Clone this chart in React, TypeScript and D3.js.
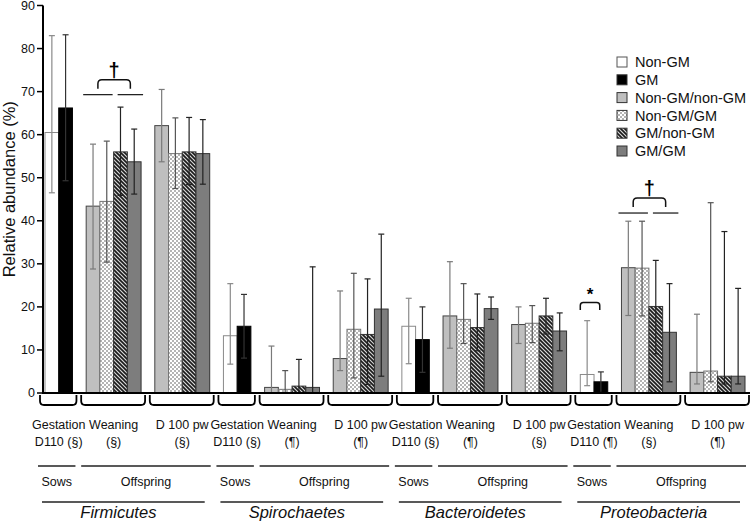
import React from "react";
import * as d3 from "d3";

// ---- data ----
const phyla = ["Firmicutes", "Spirochaetes", "Bacteroidetes", "Proteobacteria"];
const seriesNames = ["Non-GM", "GM", "Non-GM/non-GM", "Non-GM/GM", "GM/non-GM", "GM/GM"];
const timeLabels = ["Gestation", "Weaning", "D 100 pw"];
const timeSubLabels = [
  ["D110 (§)", "(§)", "(§)"],
  ["D110 (§)", "(¶)", "(¶)"],
  ["D110 (§)", "(¶)", "(§)"],
  ["D110 (¶)", "(§)", "(¶)"],
];
const yTicks = [0, 10, 20, 30, 40, 50, 60, 70, 80, 90];

// sows (Non-GM, GM)
const sowMean = [[60.5, 66.2], [13.3, 15.5], [15.5, 12.4], [4.3, 2.6]];
const sowLow = [[46.5, 49.3], [6.7, 8.1], [6.8, 4.8], [1.7, 0.3]];
const sowHigh = [[83.0, 83.2], [25.4, 22.9], [22.0, 20.0], [16.8, 4.9]];

// offspring weaning (Non-GM/non-GM, Non-GM/GM, GM/non-GM, GM/GM)
const weanMean = [[43.4, 44.5, 56.0, 53.7], [1.3, 0.85, 1.6, 1.3], [17.9, 17.1, 15.2, 19.6], [29.1, 29.0, 20.1, 14.1]];
const weanLow = [[28.8, 30.4, 45.9, 46.2], [0, 0, 0, 0], [10.4, 11.5, 9.8, 17.1], [18.0, 17.9, 9.1, 2.6]];
const weanHigh = [[57.8, 58.5, 66.4, 61.3], [10.9, 5.2, 7.8, 29.3], [30.5, 25.4, 23.0, 22.3], [39.9, 39.9, 30.8, 25.4]];

// offspring D 100 pw
const d100Mean = [[62.1, 55.6, 56.0, 55.6], [8.0, 14.8, 13.6, 19.5], [15.9, 16.2, 17.9, 14.4], [4.8, 5.1, 3.9, 3.9]];
const d100Low = [[53.7, 47.5, 48.4, 48.5], [5.2, 3.5, 2.0, 3.9], [11.5, 11.7, 13.7, 9.8], [2.1, 2.6, 2.1, 2.1]];
const d100High = [[70.5, 63.9, 64.0, 63.5], [23.7, 27.8, 26.5, 36.9], [20.0, 20.3, 22.0, 18.6], [18.3, 44.2, 37.5, 24.3]];

// significance annotations: [phylum index, group index (1 = weaning), level]
const daggerMarks = [[0, 1, 69.3], [3, 1, 41.8]];
const starMarks = [[3, 0, 19.3]];

// ---- style ----
const FONT = "'Liberation Sans', Arial, Helvetica, sans-serif";
const fills = ["#ffffff", "#000000", "#bfbfbf", "url(#dots)", "url(#hatch)", "#7d7d7d"];
const strokes = ["#8a8a8a", "#000000", "#444", "#777", "#333", "#333"];
const errColors = ["#8a8a8a", "#333", "#7a7a7a", "#555", "#222", "#222"];

const W = 750;
const H = 523;

export default function App() {
  const y = d3.scaleLinear().domain([0, 90]).range([393, 5.5]);
  const x = d3.scaleBand<number>().domain(d3.range(51)).range([45, 745]).padding(0);
  const bw = x.bandwidth();

  type Bar = { slot: number; s: number; mean: number; low: number; high: number };
  type Group = { p: number; g: number; slots: number[]; bars: Bar[] };
  const groups: Group[] = [];
  phyla.forEach((_, p) => {
    const base = p * 13;
    groups.push({
      p, g: 0, slots: [base, base + 1],
      bars: [0, 1].map((i) => ({ slot: base + i, s: i, mean: sowMean[p][i], low: sowLow[p][i], high: sowHigh[p][i] })),
    });
    groups.push({
      p, g: 1, slots: [base + 3, base + 6],
      bars: [0, 1, 2, 3].map((i) => ({ slot: base + 3 + i, s: 2 + i, mean: weanMean[p][i], low: weanLow[p][i], high: weanHigh[p][i] })),
    });
    groups.push({
      p, g: 2, slots: [base + 8, base + 11],
      bars: [0, 1, 2, 3].map((i) => ({ slot: base + 8 + i, s: 2 + i, mean: d100Mean[p][i], low: d100Low[p][i], high: d100High[p][i] })),
    });
  });

  const gx0 = (gr: Group) => x(gr.slots[0])!;
  const gx1 = (gr: Group) => x(gr.slots[1])! + bw;

  const bracePath = (x0: number, x1: number, yTop: number, yBot: number, r: number) =>
    `M${x0},${yTop} L${x0},${yBot - r} Q${x0},${yBot} ${x0 + r},${yBot} L${x1 - r},${yBot} Q${x1},${yBot} ${x1},${yBot - r} L${x1},${yTop}`;
  const braceUp = (x0: number, x1: number, yBase: number, yTop: number, r: number) =>
    `M${x0},${yBase} L${x0},${yTop + r} Q${x0},${yTop} ${x0 + r},${yTop} L${x1 - r},${yTop} Q${x1},${yTop} ${x1},${yTop + r} L${x1},${yBase}`;

  return (
    <svg width={W} height={H} style={{ position: "absolute", left: 0, top: 0, background: "#fff" }} fontFamily={FONT}>
      <defs>
        <pattern id="dots" width={4} height={4} patternUnits="userSpaceOnUse">
          <rect width={4} height={4} fill="#ffffff" />
          <rect x={0} y={0} width={2} height={2} fill="#b4b4b4" />
          <rect x={2} y={2} width={2} height={2} fill="#b4b4b4" />
        </pattern>
        <pattern id="hatch" width={4} height={4} patternUnits="userSpaceOnUse">
          <rect width={4} height={4} fill="#d8d8d8" />
          <path d="M0,0 L4,4 M-1,3 L1,5 M3,-1 L5,1" stroke="#1a1a1a" strokeWidth={1.6} />
        </pattern>
      </defs>

      {/* bars */}
      {groups.map((gr, gi) => (
        <g key={gi}>
          {gr.bars.map((b, bi) => {
            const bx = x(b.slot)!;
            return (
              <rect key={bi} x={bx} y={y(b.mean)} width={bw} height={y(0) - y(b.mean)} fill={fills[b.s]} stroke={strokes[b.s]} strokeWidth={1} />
            );
          })}
          {gr.bars.map((b, bi) => {
            const cx = x(b.slot)! + bw / 2;
            const c = errColors[b.s];
            return (
              <g key={"e" + bi} stroke={c} strokeWidth={1.2}>
                <line x1={cx} x2={cx} y1={y(b.low)} y2={y(b.high)} />
                <line x1={cx - 3} x2={cx + 3} y1={y(b.high)} y2={y(b.high)} />
                {b.low > 0.4 && <line x1={cx - 3} x2={cx + 3} y1={y(b.low)} y2={y(b.low)} />}
              </g>
            );
          })}
        </g>
      ))}

      {/* axes */}
      <line x1={43} x2={43} y1={y(90)} y2={y(0) + 1} stroke="#000" strokeWidth={2} />
      <line x1={42} x2={750} y1={y(0)} y2={y(0)} stroke="#000" strokeWidth={2} />
      {yTicks.map((t) => (
        <g key={t}>
          <line x1={37} x2={43} y1={y(t)} y2={y(t)} stroke="#000" strokeWidth={1.5} />
          <text x={35} y={y(t)} dy="0.35em" textAnchor="end" fontSize={12.5} fill="#111">{t}</text>
        </g>
      ))}
      <text transform={`translate(15,${(y(0) + y(90)) / 2 - 10}) rotate(-90)`} textAnchor="middle" fontSize={16.5} fill="#111">
        Relative abundance (%)
      </text>

      {/* group braces and labels */}
      {groups.map((gr, gi) => {
        const x0 = gx0(gr) - 5;
        const x1 = gx1(gr) + 4;
        const cx = (gx0(gr) + gx1(gr)) / 2;
        return (
          <g key={"b" + gi}>
            <path d={bracePath(x0, x1, 395, 405, 4)} fill="none" stroke="#000" strokeWidth={1.8} />
            <text x={cx} y={429} textAnchor="middle" fontSize={12.5} fill="#111">{timeLabels[gr.g]}</text>
            <text x={cx} y={446} textAnchor="middle" fontSize={12.5} fill="#111">{timeSubLabels[gr.p][gr.g]}</text>
          </g>
        );
      })}

      {/* sows / offspring / phylum */}
      {phyla.map((ph, p) => {
        const gs = groups.filter((g) => g.p === p);
        const sx0 = gx0(gs[0]) - 7;
        const sx1 = gx1(gs[0]) + 3;
        const ox0 = gx0(gs[1]) - 5;
        const ox1 = gx1(gs[2]) + 1;
        const px0 = gx0(gs[0]) - 3;
        const px1 = gx1(gs[2]) - 5;
        return (
          <g key={ph}>
            <line x1={sx0} x2={sx1} y1={466} y2={466} stroke="#222" strokeWidth={1.3} />
            <line x1={ox0} x2={ox1} y1={466} y2={466} stroke="#222" strokeWidth={1.3} />
            <text x={(sx0 + sx1) / 2} y={486} textAnchor="middle" fontSize={12.5} fill="#111">Sows</text>
            <text x={(ox0 + ox1) / 2} y={486} textAnchor="middle" fontSize={12.5} fill="#111">Offspring</text>
            <line x1={px0} x2={px1} y1={502} y2={502} stroke="#222" strokeWidth={1.3} />
            <text x={(px0 + px1) / 2 - 5} y={518} textAnchor="middle" fontSize={16.5} fontStyle="italic" fill="#111">{ph}</text>
          </g>
        );
      })}

      {/* significance */}
      {daggerMarks.map(([p, g, lvl], i) => {
        const gr = groups.find((q) => q.p === p && q.g === g)!;
        const s0 = gr.slots[0];
        const ly = y(lvl);
        const l1a = x(s0)! - 3;
        const l1b = x(s0 + 1)! + bw - 1;
        const l2a = x(s0 + 2)! + 4;
        const l2b = x(s0 + 3)! + bw + 2;
        const m1 = (l1a + l1b) / 2;
        const m2 = (l2a + l2b) / 2;
        return (
          <g key={"d" + i}>
            <line x1={l1a} x2={l1b} y1={ly} y2={ly} stroke="#222" strokeWidth={1.3} />
            <line x1={l2a} x2={l2b} y1={ly} y2={ly} stroke="#222" strokeWidth={1.3} />
            <path d={braceUp(m1, m2, ly - 6, ly - 15, 4)} fill="none" stroke="#111" strokeWidth={1.5} />
            <text x={(m1 + m2) / 2} y={ly - 18} textAnchor="middle" fontSize={20} fontWeight="bold" fill="#000">†</text>
          </g>
        );
      })}
      {starMarks.map(([p, g, lvl], i) => {
        const gr = groups.find((q) => q.p === p && q.g === g)!;
        const a = gx0(gr);
        const b = gx1(gr) - 8;
        const ly = y(lvl);
        return (
          <g key={"s" + i}>
            <path d={braceUp(a, b, ly, ly - 7.5, 3)} fill="none" stroke="#111" strokeWidth={1.5} />
            <text x={(a + b) / 2} y={ly - 10} textAnchor="middle" fontSize={17} fontWeight="bold" fill="#000">*</text>
          </g>
        );
      })}

      {/* legend */}
      {seriesNames.map((n, i) => {
        const cy = 62 + i * 17.8;
        return (
          <g key={n}>
            <rect x={617} y={cy - 5} width={10} height={10} fill={fills[i]} stroke={i === 0 ? "#555" : "#333"} strokeWidth={1} />
            <text x={635} y={cy} dy="0.36em" fontSize={14.5} fill="#111">{n}</text>
          </g>
        );
      })}
    </svg>
  );
}
